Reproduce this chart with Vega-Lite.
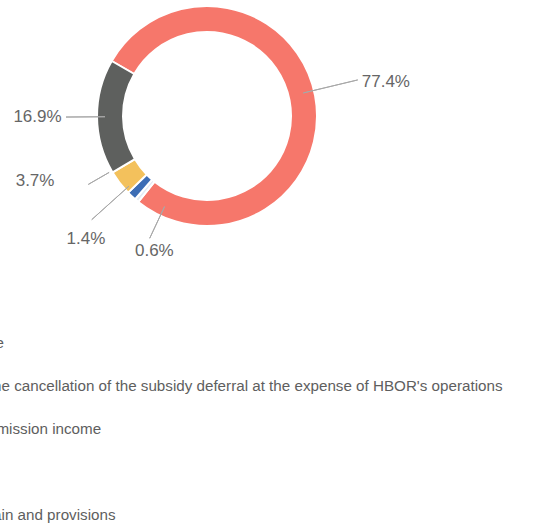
{
  "$schema": "https://vega.github.io/schema/vega-lite/v6.json",
  "width": 414,
  "height": 232,
  "autosize": {"type": "none"},
  "padding": {"left": 0, "top": 0, "right": 131, "bottom": 295},
  "background": "white",
  "config": {"view": {"stroke": null}, "font": "Liberation Sans"},
  "data": {
    "values": [
      {"category": "Interest income", "value": 77.4},
      {"category": "Income from the cancellation of the subsidy deferral at the expense of HBOR's operations", "value": 0.6},
      {"category": "Fees and commission income", "value": 1.4},
      {"category": "Other income", "value": 3.7},
      {"category": "Revaluation gain and provisions", "value": 16.9}
    ]
  },
  "transform": [
    {"stack": "value", "groupby": [], "sort": [{"field": "value", "order": "ascending"}], "as": ["v0", "v1"]},
    {"calculate": "(datum.v0 + datum.v1) / 2", "as": "mid"},
    {"calculate": "format(datum.value, '.1f') + '%'", "as": "pct"}
  ],
  "layer": [
    {
      "mark": {"type": "arc", "innerRadius": 84, "outerRadius": 110, "stroke": "white", "strokeWidth": 2},
      "encoding": {
        "theta": {"field": "v0", "type": "quantitative", "stack": null, "scale": {"type": "linear", "domain": [0, 100], "range": [3.816, 10.0992]}},
        "theta2": {"field": "v1"},
        "color": {
          "field": "category",
          "type": "nominal",
          "scale": {
            "domain": ["Interest income", "Income from the cancellation of the subsidy deferral at the expense of HBOR's operations", "Fees and commission income", "Other income", "Revaluation gain and provisions"],
            "range": ["#F6776B", "#E3EAF3", "#3C6DB5", "#F3C15C", "#5E605E"]
          },
          "legend": {
            "orient": "none",
            "legendX": -119,
            "legendY": 335.5,
            "title": null,
            "labelFontSize": 15.2,
            "labelFont": "Liberation Sans",
            "labelColor": "#5e5e5e",
            "labelLimit": 1000,
            "symbolType": "circle",
            "symbolSize": 100,
            "symbolStrokeWidth": 0,
            "rowPadding": 27,
            "padding": 0
          }
        }
      }
    },
    {
      "transform": [{"filter": {"field": "category", "equal": "Interest income"}}],
      "mark": {"type": "arc", "innerRadius": 99, "outerRadius": 155, "thetaOffset": -0.0485, "theta2Offset": -0.0485, "fillOpacity": 0, "stroke": "#a8a8a8", "strokeWidth": 1},
      "encoding": {"theta": {"field": "mid", "type": "quantitative", "stack": null}, "theta2": {"field": "mid"}}
    },
    {
      "transform": [{"filter": {"field": "category", "equal": "Revaluation gain and provisions"}}],
      "mark": {"type": "arc", "innerRadius": 102, "outerRadius": 141, "fillOpacity": 0, "stroke": "#a8a8a8", "strokeWidth": 1},
      "encoding": {"theta": {"field": "mid", "type": "quantitative", "stack": null}, "theta2": {"field": "mid"}}
    },
    {
      "transform": [{"filter": {"field": "category", "equal": "Other income"}}],
      "mark": {"type": "arc", "innerRadius": 113, "outerRadius": 137, "thetaOffset": 0.1316, "theta2Offset": 0.1316, "fillOpacity": 0, "stroke": "#a8a8a8", "strokeWidth": 1},
      "encoding": {"theta": {"field": "mid", "type": "quantitative", "stack": null}, "theta2": {"field": "mid"}}
    },
    {
      "transform": [{"filter": {"field": "category", "equal": "Fees and commission income"}}],
      "mark": {"type": "arc", "innerRadius": 105, "outerRadius": 155, "thetaOffset": 0.0824, "theta2Offset": 0.0824, "fillOpacity": 0, "stroke": "#a8a8a8", "strokeWidth": 1},
      "encoding": {"theta": {"field": "mid", "type": "quantitative", "stack": null}, "theta2": {"field": "mid"}}
    },
    {
      "transform": [{"filter": {"field": "category", "equal": "Income from the cancellation of the subsidy deferral at the expense of HBOR's operations"}}],
      "mark": {"type": "arc", "innerRadius": 100, "outerRadius": 135, "thetaOffset": -0.255, "theta2Offset": -0.255, "fillOpacity": 0, "stroke": "#a8a8a8", "strokeWidth": 1},
      "encoding": {"theta": {"field": "mid", "type": "quantitative", "stack": null}, "theta2": {"field": "mid"}}
    },
    {
      "transform": [{"filter": {"field": "category", "equal": "Interest income"}}],
      "mark": {"type": "text", "radius": 182, "fontSize": 17, "fill": "#666666", "align": "center", "baseline": "middle"},
      "encoding": {"theta": {"field": "mid", "type": "quantitative", "stack": null}, "text": {"field": "pct"}}
    },
    {
      "transform": [{"filter": {"field": "category", "equal": "Revaluation gain and provisions"}}],
      "mark": {"type": "text", "radius": 169.5, "fontSize": 17, "fill": "#666666", "align": "center", "baseline": "middle"},
      "encoding": {"theta": {"field": "mid", "type": "quantitative", "stack": null}, "text": {"field": "pct"}}
    },
    {
      "transform": [{"filter": {"field": "category", "equal": "Other income"}}],
      "mark": {"type": "text", "radius": 160, "dx": -45, "dy": -32.5, "fontSize": 17, "fill": "#666666", "align": "center", "baseline": "middle"},
      "encoding": {"theta": {"field": "mid", "type": "quantitative", "stack": null}, "text": {"field": "pct"}}
    },
    {
      "transform": [{"filter": {"field": "category", "equal": "Fees and commission income"}}],
      "mark": {"type": "text", "radius": 172, "dx": -3, "dy": -2, "fontSize": 17, "fill": "#666666", "align": "center", "baseline": "middle"},
      "encoding": {"theta": {"field": "mid", "type": "quantitative", "stack": null}, "text": {"field": "pct"}}
    },
    {
      "transform": [{"filter": {"field": "category", "equal": "Income from the cancellation of the subsidy deferral at the expense of HBOR's operations"}}],
      "mark": {"type": "text", "radius": 145, "dx": 40, "dy": 23.6, "fontSize": 17, "fill": "#666666", "align": "center", "baseline": "middle"},
      "encoding": {"theta": {"field": "mid", "type": "quantitative", "stack": null}, "text": {"field": "pct"}}
    }
  ]
}
